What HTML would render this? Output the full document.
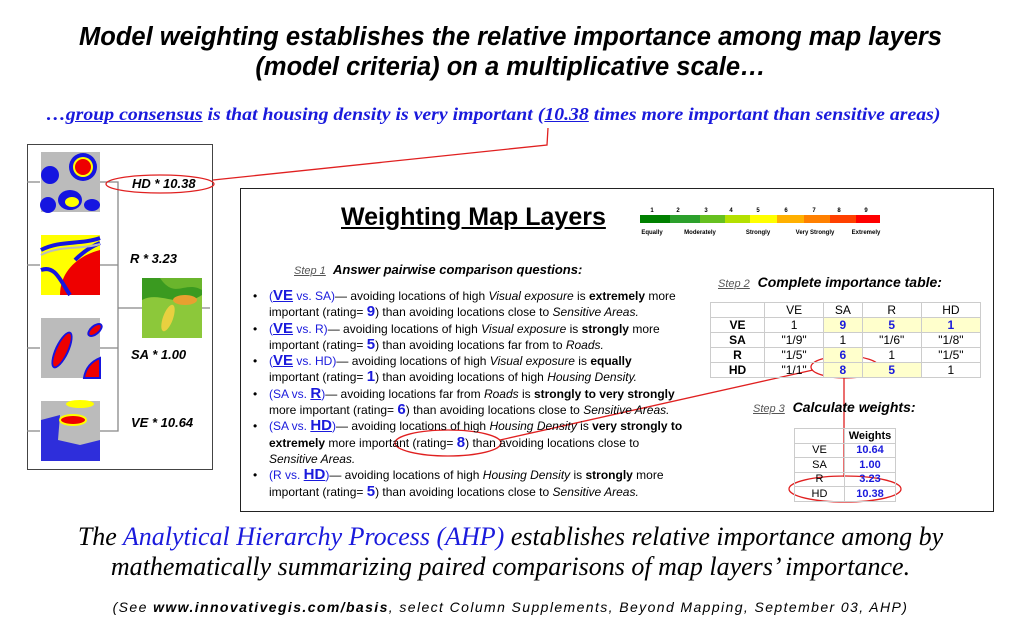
<!DOCTYPE html>
<html><head><meta charset="utf-8"><style>
*{margin:0;padding:0;box-sizing:border-box}
body{width:1021px;height:641px;background:#fff;position:relative;overflow:hidden;font-family:"Liberation Sans",Arial,sans-serif}
.a{position:absolute;white-space:nowrap}
.t{font-weight:bold;font-style:italic;font-size:25.5px;width:1021px;text-align:center;left:0}
.b{color:#1a1adc}
.bl{color:#1a1adc;font-size:15px;font-weight:bold}
.bul{font-size:12px;line-height:16.3px;left:253px;width:434px;white-space:normal}
.bul div{position:relative;padding-left:16px}
.bul div:before{content:"•";position:absolute;left:0}
table{border-collapse:collapse;font-size:12px}
td{border:1px solid #ccc;text-align:center;height:14.5px;padding:0}
.y{background:#ffffcc}
.lab{font-style:italic;font-weight:bold;font-size:13px}
</style></head><body>
<div class="a t" style="top:23px">Model weighting establishes the relative importance among map layers</div>
<div class="a t" style="top:53px">(model criteria) on a multiplicative scale…</div>
<div class="a" style="left:46px;top:104px;font-family:'Liberation Serif',serif;font-style:italic;font-weight:bold;font-size:17.5px;color:#1a1adc;transform:scaleX(1.13);transform-origin:0 0">…<u>group consensus</u> is that housing density is very important (<u>10.38</u> times more important than sensitive areas)</div>

<div class="a" style="left:27px;top:144px;width:186px;height:326px;border:1px solid #444"></div>
<div class="a" style="left:240px;top:188px;width:754px;height:324px;border:1px solid #222"></div>

<svg class="a" style="left:0;top:0" width="1021" height="641">
<g stroke="#888" fill="none" stroke-width="1.3">
<path d="M27 182H40M27 265H40M27 348H40M27 431H40M100 182H118V431H100M100 265H118M100 348H118M118 308H142M202 308H210"/>
</g>
<rect x="41" y="152" width="59" height="60" fill="#bbb"/>
<circle cx="83" cy="167" r="14" fill="#1515e0"/><circle cx="83" cy="167" r="10" fill="#ff0"/><circle cx="83" cy="167" r="8" fill="#e00"/>
<circle cx="50" cy="175" r="9" fill="#1515e0"/><circle cx="48" cy="205" r="8" fill="#1515e0"/>
<ellipse cx="70" cy="200" rx="12" ry="10" fill="#1515e0"/><ellipse cx="72" cy="202" rx="7" ry="5" fill="#ff0"/><ellipse cx="92" cy="205" rx="8" ry="6" fill="#1515e0"/>
<rect x="41" y="235" width="59" height="60" fill="#ff0"/>
<path d="M60 295 C60 270 80 255 100 250 L100 295Z" fill="#e00"/>
<path d="M41 250 C60 240 80 245 100 238 M41 270 C55 265 60 280 70 295 M75 260 C85 250 95 245 100 243" stroke="#1515e0" stroke-width="4" fill="none"/>
<path d="M41 255 C60 245 80 250 100 244" stroke="#bbb" stroke-width="2" fill="none"/>
<rect x="41" y="318" width="59" height="60" fill="#bbb"/>
<ellipse cx="62" cy="350" rx="7" ry="20" transform="rotate(25 62 350)" fill="#1515e0"/><ellipse cx="62" cy="350" rx="5" ry="18" transform="rotate(25 62 350)" fill="#e00"/>
<path d="M84 378 C86 365 95 360 100 358 L100 378Z" fill="#e00" stroke="#1515e0" stroke-width="2"/>
<ellipse cx="95" cy="330" rx="8" ry="4" fill="#e00" stroke="#1515e0" stroke-width="2" transform="rotate(-40 95 330)"/>
<rect x="41" y="401" width="59" height="60" fill="#bbb"/>
<path d="M41 420 L60 415 L58 440 L80 445 L100 440 L100 461 L41 461Z" fill="#1515e0" opacity=".85"/>
<ellipse cx="73" cy="420" rx="13" ry="5" fill="#e00" stroke="#ff0" stroke-width="2"/>
<ellipse cx="80" cy="404" rx="14" ry="4" fill="#ff0"/>
<rect x="142" y="278" width="60" height="60" fill="#3a9a20"/>
<path d="M142 300 C160 290 180 310 202 295 L202 338 L142 338Z" fill="#8cc83a"/>
<path d="M160 278 C175 300 185 280 202 290 L202 278Z" fill="#6ab52c"/>
<ellipse cx="168" cy="318" rx="5" ry="14" transform="rotate(20 168 318)" fill="#e8d040"/>
<ellipse cx="185" cy="300" rx="12" ry="5" fill="#e8a030"/>
<g fill="none" stroke="#e02020" stroke-width="1.3">
<ellipse cx="160" cy="184" rx="54" ry="9"/>
<path d="M213 180 L547 145 L548 128"/>
<ellipse cx="448" cy="443" rx="53" ry="13"/>
<path d="M500 440 L813 370"/>
<ellipse cx="845" cy="367" rx="34" ry="11"/>
<path d="M844 378 V477"/>
<ellipse cx="845" cy="489" rx="56" ry="13"/>
</g>
<rect x="640" y="215" width="30" height="8" fill="#008000"/><rect x="670" y="215" width="30" height="8" fill="#2ca02c"/><rect x="700" y="215" width="25" height="8" fill="#66c020"/><rect x="725" y="215" width="25" height="8" fill="#b4e000"/><rect x="750" y="215" width="27" height="8" fill="#ffff00"/><rect x="777" y="215" width="27" height="8" fill="#ffb000"/><rect x="804" y="215" width="26" height="8" fill="#ff8000"/><rect x="830" y="215" width="26" height="8" fill="#ff4000"/><rect x="856" y="215" width="24" height="8" fill="#ff0000"/>
<g font-size="6" font-weight="bold" font-family="Liberation Sans" text-anchor="middle">
<text x="652" y="212">1</text><text x="678" y="212">2</text><text x="706" y="212">3</text><text x="731" y="212">4</text><text x="758" y="212">5</text><text x="786" y="212">6</text><text x="814" y="212">7</text><text x="839" y="212">8</text><text x="866" y="212">9</text>
<text x="652" y="234">Equally</text><text x="700" y="234">Moderately</text><text x="758" y="234">Strongly</text><text x="815" y="234">Very Strongly</text><text x="866" y="234">Extremely</text></g>
</svg>

<div class="a lab" style="left:132px;top:176px">HD * 10.38</div>
<div class="a lab" style="left:130px;top:251px">R * 3.23</div>
<div class="a lab" style="left:131px;top:347px">SA * 1.00</div>
<div class="a lab" style="left:131px;top:415px">VE * 10.64</div>

<div class="a" style="left:341px;top:203px;font-size:25px;font-weight:bold;text-decoration:underline">Weighting Map Layers</div>
<div class="a" style="left:294px;top:262px;font-size:13px"><span style="font-size:11px;font-style:italic;text-decoration:underline;color:#555">Step 1</span>&nbsp; <b><i>Answer pairwise comparison questions:</i></b></div>
<div class="a bul" style="top:288px">
<div><span class="b">(<u class="bl">VE</u> vs. SA)</span>— avoiding locations of high <i>Visual exposure</i> is <b>extremely</b> more important (rating= <span class="bl">9</span>) than avoiding locations close to <i>Sensitive Areas.</i></div>
<div><span class="b">(<u class="bl">VE</u> vs. R)</span>— avoiding locations of high <i>Visual exposure</i> is <b>strongly</b> more important (rating= <span class="bl">5</span>) than avoiding locations far from to <i>Roads.</i></div>
<div><span class="b">(<u class="bl">VE</u> vs. HD)</span>— avoiding locations of high <i>Visual exposure</i> is <b>equally</b><br>important (rating= <span class="bl">1</span>) than avoiding locations of high <i>Housing Density.</i></div>
<div><span class="b">(SA vs. <u class="bl">R</u>)</span>— avoiding locations far from <i>Roads</i> is <b>strongly to very strongly</b> more important (rating= <span class="bl">6</span>) than avoiding locations close to <i>Sensitive Areas.</i></div>
<div><span class="b">(SA vs. <u class="bl">HD</u>)</span>— avoiding locations of high <i>Housing Density</i> is <b>very strongly to</b><br><b>extremely</b> more important (rating= <span class="bl">8</span>) than avoiding locations close to<br><i>Sensitive Areas.</i></div>
<div><span class="b">(R vs. <u class="bl">HD</u>)</span>— avoiding locations of high <i>Housing Density</i> is <b>strongly</b> more important (rating= <span class="bl">5</span>) than avoiding locations close to <i>Sensitive Areas.</i></div>
</div>

<div class="a" style="left:718px;top:274px;font-size:14px"><span style="font-size:11px;font-style:italic;text-decoration:underline;color:#555">Step 2</span>&nbsp; <b><i>Complete importance table:</i></b></div>
<table class="a" style="left:710px;top:302px;width:271px">
<tr><td style="width:54px"></td><td>VE</td><td>SA</td><td>R</td><td>HD</td></tr>
<tr><td><b>VE</b></td><td>1</td><td class="y bl" style="font-size:12px">9</td><td class="y bl" style="font-size:12px">5</td><td class="y bl" style="font-size:12px">1</td></tr>
<tr><td><b>SA</b></td><td>"1/9"</td><td>1</td><td>"1/6"</td><td>"1/8"</td></tr>
<tr><td><b>R</b></td><td>"1/5"</td><td class="y bl" style="font-size:12px">6</td><td>1</td><td>"1/5"</td></tr>
<tr><td><b>HD</b></td><td>"1/1"</td><td class="y bl" style="font-size:12px">8</td><td class="y bl" style="font-size:12px">5</td><td>1</td></tr>
</table>
<div class="a" style="left:753px;top:399px;font-size:14px"><span style="font-size:11px;font-style:italic;text-decoration:underline;color:#555">Step 3</span>&nbsp; <b><i>Calculate weights:</i></b></div>
<table class="a" style="left:794px;top:428px;width:102px;font-size:11px">
<tr><td style="width:50px"></td><td><b>Weights</b></td></tr>
<tr><td>VE</td><td class="bl" style="font-size:11px">10.64</td></tr>
<tr><td>SA</td><td class="bl" style="font-size:11px">1.00</td></tr>
<tr><td>R</td><td class="bl" style="font-size:11px">3.23</td></tr>
<tr><td>HD</td><td class="bl" style="font-size:11px">10.38</td></tr>
</table>

<div class="a" style="left:0;width:1021px;text-align:center;top:522px;font-family:'Liberation Serif',serif;font-style:italic;font-size:26px;line-height:30px">The <span class="b">Analytical Hierarchy Process (AHP)</span> establishes relative importance among by<br>mathematically summarizing paired comparisons of map layers’ importance.</div>
<div class="a" style="left:0;width:1021px;text-align:center;top:599px;font-style:italic;font-size:14px;letter-spacing:1.4px">(See <b>www.innovativegis.com/basis</b>, select Column Supplements, Beyond Mapping, September 03, AHP)</div>
</body></html>
